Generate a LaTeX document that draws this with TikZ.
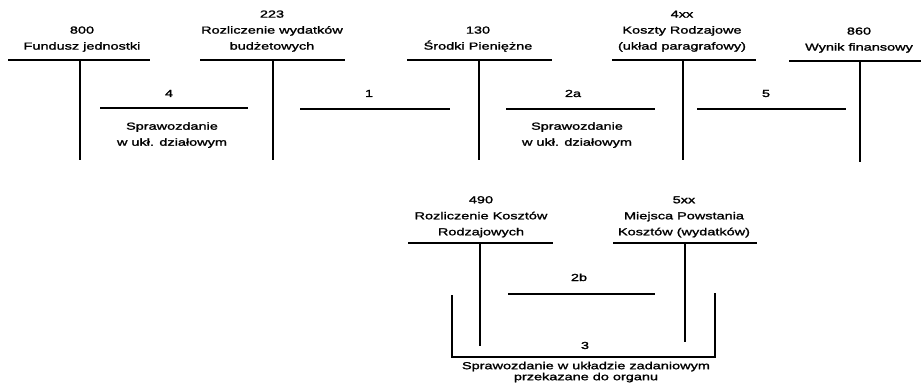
\documentclass[tikz,border=0pt]{standalone}
\usepackage{fontspec}
\setmainfont[FakeStretch=1.42,FakeBold=1.6]{Liberation Sans}
\begin{document}
\begin{tikzpicture}[x=1pt,y=-1pt,
  title/.style={font=\fontsize{10.2}{16}\selectfont, align=center, inner sep=0pt, anchor=south},
  lab/.style={font=\fontsize{10.2}{16}\selectfont, inner sep=0pt, anchor=base},
  note/.style={font=\fontsize{10.2}{16}\selectfont, align=center, inner sep=0pt, anchor=north},
  bignote/.style={font=\fontsize{10.2}{11}\selectfont, align=center, inner sep=0pt, anchor=north},
  rule/.style={line width=1.6pt},
  brk/.style={line width=1.3pt}]
\useasboundingbox (0,0) rectangle (921,385);

% ---- top row of accounts ----
\node[title] (t800) at (82,54.6) {800\\Fundusz jednostki\strut};
\node[title] (t223) at (272,54.6) {223\\Rozliczenie wydatków\\budżetowych\strut};
\node[title] (t130) at (478,54.6) {130\\Środki Pieniężne\strut};
\node[title] (t4xx) at (682,54.6) {4xx\\Koszty Rodzajowe\\(układ paragrafowy)\strut};
\node[title] (t860) at (859,55.6) {860\\Wynik finansowy\strut};

\coordinate (c800) at (80,60);
\coordinate (c223) at (273,60);
\coordinate (c130) at (479,60);
\coordinate (c4xx) at (683,60);
\coordinate (c860) at (860,61);

\draw[rule] ([xshift=-72pt]c800) -- ([xshift=70pt]c800);
\draw[rule] (c800) -- ++(0,100);
\draw[rule] ([xshift=-73pt]c223) -- ([xshift=72pt]c223);
\draw[rule] (c223) -- ++(0,100);
\draw[rule] ([xshift=-72pt]c130) -- ([xshift=73pt]c130);
\draw[rule] (c130) -- ++(0,100);
\draw[rule] ([xshift=-71pt]c4xx) -- ([xshift=73pt]c4xx);
\draw[rule] (c4xx) -- ++(0,100);
\draw[rule] ([xshift=-71pt]c860) -- ([xshift=61pt]c860);
\draw[rule] (c860) -- ++(0,101);

% ---- top connectors ----
\coordinate (k4a) at (100,108);  \coordinate (k4b) at (248,108);
\coordinate (k1a) at (300,109);  \coordinate (k1b) at (450,109);
\coordinate (k2aa) at (506,109); \coordinate (k2ab) at (655,109);
\coordinate (k5a) at (697,109);  \coordinate (k5b) at (846,109);
\draw[rule] (k4a) -- (k4b);
\draw[rule] (k1a) -- (k1b);
\draw[rule] (k2aa) -- (k2ab);
\draw[rule] (k5a) -- (k5b);

\node[lab] (l4) at (169,97) {4};
\node[lab] (l1) at (369,97) {1};
\node[lab] (l2a) at (573,97) {2a};
\node[lab] (l5) at (766,97) {5};

\node[note] (s4) at (172,118.3) {\strut Sprawozdanie\\w ukł. działowym};
\node[note] (s2a) at (577,118.3) {\strut Sprawozdanie\\w ukł. działowym};

% ---- bottom accounts ----
\node[title] (t490) at (481,240.3) {490\\Rozliczenie Kosztów\\Rodzajowych\strut};
\node[title] (t5xx) at (684,240.3) {5xx\\Miejsca Powstania\\Kosztów (wydatków)\strut};

\coordinate (c490) at (480,243);
\coordinate (c5xx) at (685,243);
\draw[rule] ([xshift=-72pt]c490) -- ([xshift=73pt]c490);
\draw[rule] (c490) -- ++(0,103);
\draw[rule] ([xshift=-72pt]c5xx) -- ([xshift=72pt]c5xx);
\draw[rule] (c5xx) -- ++(0,99);

% ---- connector 2b ----
\coordinate (k2ba) at (508,294); \coordinate (k2bb) at (655,294);
\draw[rule] (k2ba) -- (k2bb);
\node[lab] (l2b) at (579,281) {2b};

% ---- bracket 3 ----
\coordinate (b1) at (452,295);
\coordinate (b2) at (452,357);
\coordinate (b3) at (715,357);
\coordinate (b4) at (715,293);
\draw[brk] (b1) -- (b2) -- (b3) -- (b4);
\node[lab] (l3) at (585,349) {3};
\node[bignote] (s3) at (586,361.3) {\strut Sprawozdanie w układzie zadaniowym\\przekazane do organu};
\end{tikzpicture}
\end{document}
